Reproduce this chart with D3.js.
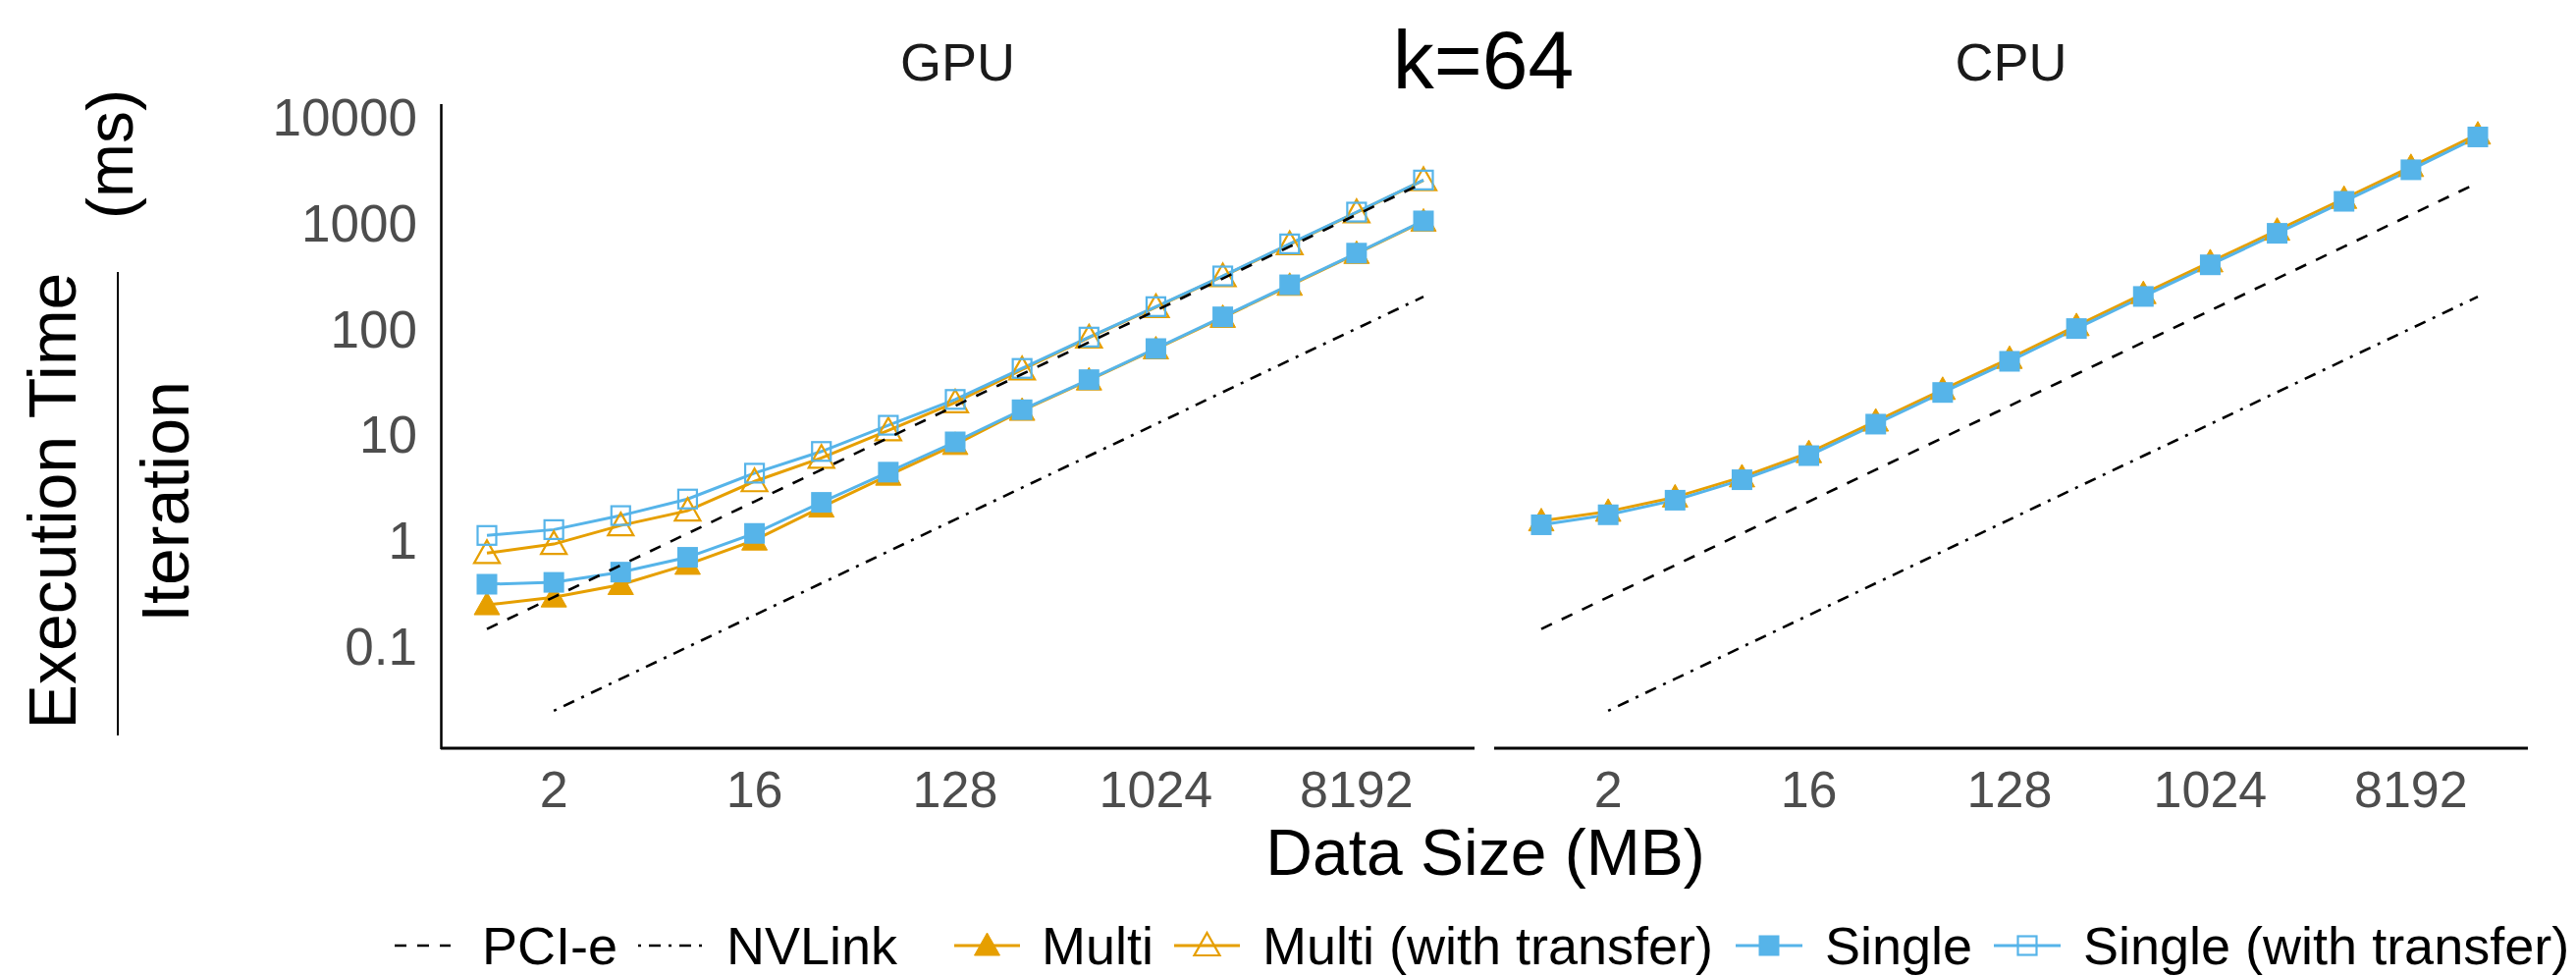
<!DOCTYPE html>
<html>
<head>
<meta charset="utf-8">
<script src="https://cdn.jsdelivr.net/npm/d3@7"></script>
<style>
  body { margin: 0; background: #fff; }
  text { font-family: "Liberation Sans", Arial, sans-serif; }
</style>
</head>
<body>
<script>
// data sizes (MB) and timings (ms per iteration)
var sizes = [1, 2, 4, 8, 16, 32, 64, 128, 256, 512, 1024, 2048, 4096, 8192, 16384];
var nvSizes = [2, 4, 8, 16, 32, 64, 128, 256, 512, 1024, 2048, 4096, 8192, 16384];

var gpuMulti = [0.245, 0.29, 0.38, 0.59, 1.0, 2.05, 4.1, 8.0, 16.8, 32.5, 64, 127, 255, 510, 1030];
var gpuMultiTransfer = [0.755, 0.92, 1.38, 1.9, 3.6, 6.0, 10.9, 20, 41, 82, 159, 311, 625, 1250, 2520];
var gpuSingle = [0.384, 0.40, 0.50, 0.69, 1.16, 2.28, 4.4, 8.5, 17.1, 32.9, 64.7, 129, 259, 516, 1040];
var gpuSingleTransfer = [1.11, 1.26, 1.71, 2.45, 4.3, 6.9, 12.2, 21.4, 42, 83, 161, 314, 631, 1259, 2530];

var cpuMulti = [1.52, 1.87, 2.55, 3.95, 6.7, 13.3, 26.5, 52, 106, 213, 425, 845, 1690, 3380, 6850];
var cpuSingle = [1.40, 1.74, 2.39, 3.73, 6.3, 12.5, 24.9, 49, 100, 201, 400, 794, 1592, 3162, 6460];

var pcie = [0.145, 0.29, 0.58, 1.16, 2.32, 4.64, 9.28, 18.6, 37.1, 74.2, 148, 297, 594, 1190, 2380];
var nvlink = [0.0245, 0.049, 0.098, 0.196, 0.392, 0.784, 1.57, 3.14, 6.27, 12.5, 25.1, 50.2, 100, 200];

var xTicks = [2, 16, 128, 1024, 8192];
var yTicks = [0.1, 1, 10, 100, 1000, 10000];

var orange = "#E69F00", blue = "#56B4E9";

//svg container
var width = 2624, height = 995;
var svg = d3.select("body").append("svg")
    .attr("width", width)
    .attr("height", height);

//shared y scale
var y = d3.scaleLog().domain([0.1, 10000]).range([658, 119]);
var panelTop = 106, panelBottom = 763;

//two facet panels
var panels = [
    {name: "GPU", left: 449, right: 1502, x0: 496, x1: 1450,
     series: [
        {vals: gpuMulti, color: orange, shape: "tri", fill: true},
        {vals: gpuMultiTransfer, color: orange, shape: "tri", fill: false},
        {vals: gpuSingle, color: blue, shape: "sq", fill: true},
        {vals: gpuSingleTransfer, color: blue, shape: "sq", fill: false}
     ]},
    {name: "CPU", left: 1522, right: 2575, x0: 1570, x1: 2524,
     series: [
        {vals: cpuMulti, color: orange, shape: "tri", fill: true},
        {vals: cpuSingle, color: blue, shape: "sq", fill: true}
     ]}
];

function marker(g, shape, fill, color, cx, cy){
    if (shape == "tri") {
        g.append("path")
            .attr("d", "M" + cx + "," + (cy - 13) + "L" + (cx + 13) + "," + (cy + 10) + "L" + (cx - 13) + "," + (cy + 10) + "Z")
            .attr("fill", fill ? color : "none")
            .attr("stroke", color)
            .attr("stroke-width", fill ? 1 : 2.2)
            .attr("stroke-linejoin", "miter");
    } else {
        var s = fill ? 21 : 19;
        g.append("rect")
            .attr("x", cx - s / 2).attr("y", cy - s / 2)
            .attr("width", s).attr("height", s)
            .attr("fill", fill ? color : "none")
            .attr("stroke", fill ? "none" : color)
            .attr("stroke-width", 2.2);
    }
}

panels.forEach(function(p){
    var x = d3.scaleLog().base(2).domain([1, 16384]).range([p.x0, p.x1]);
    var g = svg.append("g");

    var line = d3.line()
        .x(function(d){ return x(d[0]); })
        .y(function(d){ return y(d[1]); });

    //series lines
    p.series.forEach(function(s){
        g.append("path")
            .datum(d3.zip(sizes, s.vals))
            .attr("d", line)
            .attr("fill", "none")
            .attr("stroke", s.color)
            .attr("stroke-width", 3);
    });
    //series points
    p.series.forEach(function(s){
        d3.zip(sizes, s.vals).forEach(function(d){
            marker(g, s.shape, s.fill, s.color, x(d[0]), y(d[1]));
        });
    });

    //bandwidth reference lines
    g.append("path")
        .datum(d3.zip(sizes, pcie))
        .attr("d", line)
        .attr("fill", "none")
        .attr("stroke", "#000")
        .attr("stroke-width", 2.6)
        .attr("stroke-dasharray", "12,11");
    g.append("path")
        .datum(d3.zip(nvSizes, nvlink))
        .attr("d", line)
        .attr("fill", "none")
        .attr("stroke", "#000")
        .attr("stroke-width", 2.6)
        .attr("stroke-dasharray", "3,8,12,8");

    //x axis
    g.append("line")
        .attr("x1", p.left).attr("x2", p.right)
        .attr("y1", 762).attr("y2", 762)
        .attr("stroke", "#000").attr("stroke-width", 3);
    g.selectAll(".xt")
        .data(xTicks)
        .enter()
        .append("text")
        .attr("x", function(d){ return x(d); })
        .attr("y", 822)
        .attr("text-anchor", "middle")
        .attr("font-size", 52)
        .attr("fill", "#4D4D4D")
        .text(function(d){ return d; });

    //strip label
    g.append("text")
        .attr("x", (p.left + p.right) / 2)
        .attr("y", 82)
        .attr("text-anchor", "middle")
        .attr("font-size", 54)
        .attr("fill", "#1A1A1A")
        .text(p.name);
});

//y axis on the GPU panel only
svg.append("line")
    .attr("x1", 449.5).attr("x2", 449.5)
    .attr("y1", panelTop).attr("y2", panelBottom)
    .attr("stroke", "#000").attr("stroke-width", 2.5);
svg.selectAll(".yt")
    .data(yTicks)
    .enter()
    .append("text")
    .attr("x", 425)
    .attr("y", function(d){ return y(d); })
    .attr("dy", "0.36em")
    .attr("text-anchor", "end")
    .attr("font-size", 53)
    .attr("fill", "#4D4D4D")
    .text(function(d){ return d; });

//y axis title: Execution Time / Iteration (ms)
svg.append("text")
    .attr("transform", "translate(77,510) rotate(-90)")
    .attr("text-anchor", "middle")
    .attr("font-size", 68)
    .text("Execution Time");
svg.append("line")
    .attr("x1", 120).attr("x2", 120)
    .attr("y1", 277).attr("y2", 749)
    .attr("stroke", "#000").attr("stroke-width", 2);
svg.append("text")
    .attr("transform", "translate(192,511) rotate(-90)")
    .attr("text-anchor", "middle")
    .attr("font-size", 68)
    .text("Iteration");
svg.append("text")
    .attr("transform", "translate(135,157) rotate(-90)")
    .attr("text-anchor", "middle")
    .attr("font-size", 66)
    .text("(ms)");

//x axis title and main title
svg.append("text")
    .attr("x", 1513).attr("y", 891)
    .attr("text-anchor", "middle")
    .attr("font-size", 66)
    .text("Data Size (MB)");
svg.append("text")
    .attr("x", 1511).attr("y", 90)
    .attr("text-anchor", "middle")
    .attr("font-size", 84)
    .text("k=64");

//legend
var legendItems = [
    {label: "PCI-e", x0: 402, x1: 459, tx: 491, dash: "12,11"},
    {label: "NVLink", x0: 650, x1: 717, tx: 740, dash: "3,8,12,8"},
    {label: "Multi", x0: 972, x1: 1039, tx: 1061, color: orange, shape: "tri", fill: true},
    {label: "Multi (with transfer)", x0: 1196, x1: 1263, tx: 1286, color: orange, shape: "tri", fill: false},
    {label: "Single", x0: 1768, x1: 1836, tx: 1859, color: blue, shape: "sq", fill: true},
    {label: "Single (with transfer)", x0: 2031, x1: 2099, tx: 2122, color: blue, shape: "sq", fill: false}
];
var legend = svg.append("g");
legendItems.forEach(function(it){
    legend.append("line")
        .attr("x1", it.x0).attr("x2", it.x1)
        .attr("y1", 963).attr("y2", 963)
        .attr("stroke", it.color || "#000")
        .attr("stroke-width", it.color ? 3 : 2.6)
        .attr("stroke-dasharray", it.dash || null);
    if (it.shape) marker(legend, it.shape, it.fill, it.color, (it.x0 + it.x1) / 2, 963);
    legend.append("text")
        .attr("x", it.tx).attr("y", 982)
        .attr("font-size", 54)
        .text(it.label);
});
</script>
</body>
</html>
